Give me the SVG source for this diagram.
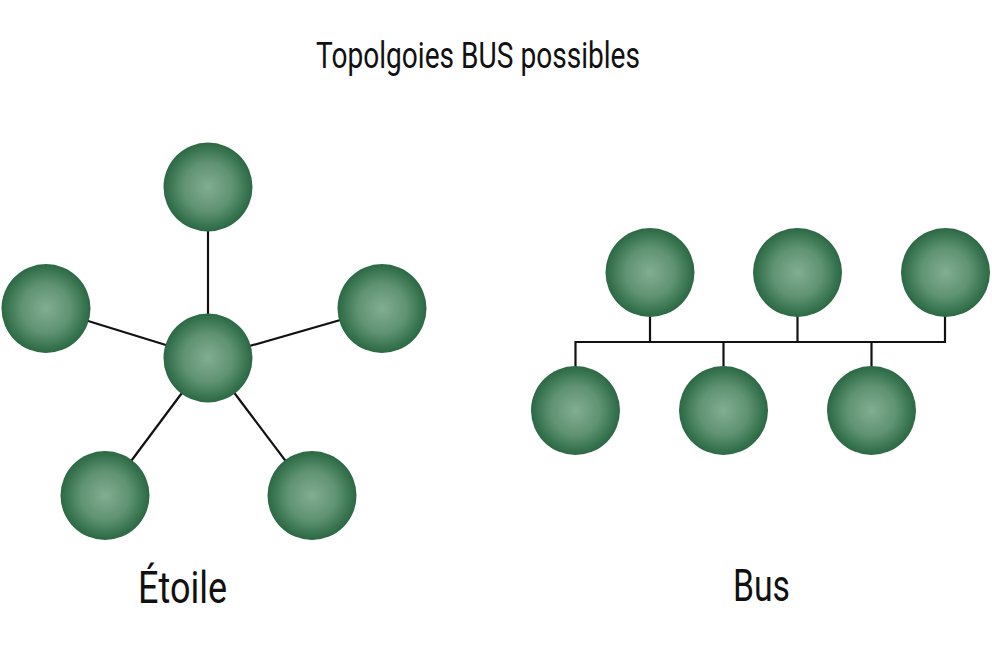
<svg xmlns="http://www.w3.org/2000/svg" width="992" height="661" viewBox="0 0 992 661">
<defs>
<radialGradient id="g" cx="50%" cy="50%" r="50%">
<stop offset="0" stop-color="#82ad91"/>
<stop offset="0.55" stop-color="#5f9372"/>
<stop offset="0.85" stop-color="#3b7652"/>
<stop offset="1" stop-color="#2b6843"/>
</radialGradient>
</defs>
<style>
.n{fill:url(#g)}
.c{stroke:#111;stroke-width:2.2;fill:none}
.t{font-family:Roboto,"Liberation Sans",sans-serif;fill:#111}
</style>
<rect width="992" height="661" fill="#fff"/>
<text class="t" x="316" y="68" font-size="37" textLength="324" lengthAdjust="spacingAndGlyphs">Topolgoies BUS possibles</text>
<g id="connectors">
<line class="c" x1="208" y1="187" x2="208" y2="358"/>
<line class="c" x1="46" y1="308" x2="208" y2="358"/>
<line class="c" x1="382" y1="308" x2="208" y2="358"/>
<line class="c" x1="105" y1="496" x2="208" y2="358"/>
<line class="c" x1="312" y1="496" x2="208" y2="358"/>
<polyline class="c" points="575.5,410 575.5,342 945,342 945,272"/>
<line class="c" x1="650" y1="272" x2="650" y2="342"/>
<line class="c" x1="797.5" y1="272" x2="797.5" y2="342"/>
<line class="c" x1="723.5" y1="342" x2="723.5" y2="410"/>
<line class="c" x1="871.5" y1="342" x2="871.5" y2="410"/>
</g>
<g id="star-top"><circle class="n" cx="208" cy="187" r="44.5"/></g>
<g id="star-center"><circle class="n" cx="208" cy="358" r="44.5"/></g>
<g id="star-left"><circle class="n" cx="46" cy="308.5" r="44.5"/></g>
<g id="star-right"><circle class="n" cx="382" cy="308.5" r="44.5"/></g>
<g id="star-bottom-left"><circle class="n" cx="105" cy="495.5" r="44.5"/></g>
<g id="star-bottom-right"><circle class="n" cx="312" cy="495.5" r="44.5"/></g>
<g id="bus-top-1"><circle class="n" cx="650" cy="272.5" r="44.5"/></g>
<g id="bus-top-2"><circle class="n" cx="797.5" cy="272.5" r="44.5"/></g>
<g id="bus-top-3"><circle class="n" cx="945.5" cy="272.5" r="44.5"/></g>
<g id="bus-bottom-1"><circle class="n" cx="575.5" cy="410.5" r="44.5"/></g>
<g id="bus-bottom-2"><circle class="n" cx="723.5" cy="410.5" r="44.5"/></g>
<g id="bus-bottom-3"><circle class="n" cx="871.5" cy="410.5" r="44.5"/></g>
<text class="t" x="138" y="603" font-size="44" textLength="89" lengthAdjust="spacingAndGlyphs">Étoile</text>
<text class="t" x="733" y="601" font-size="44" textLength="57" lengthAdjust="spacingAndGlyphs">Bus</text>
</svg>
